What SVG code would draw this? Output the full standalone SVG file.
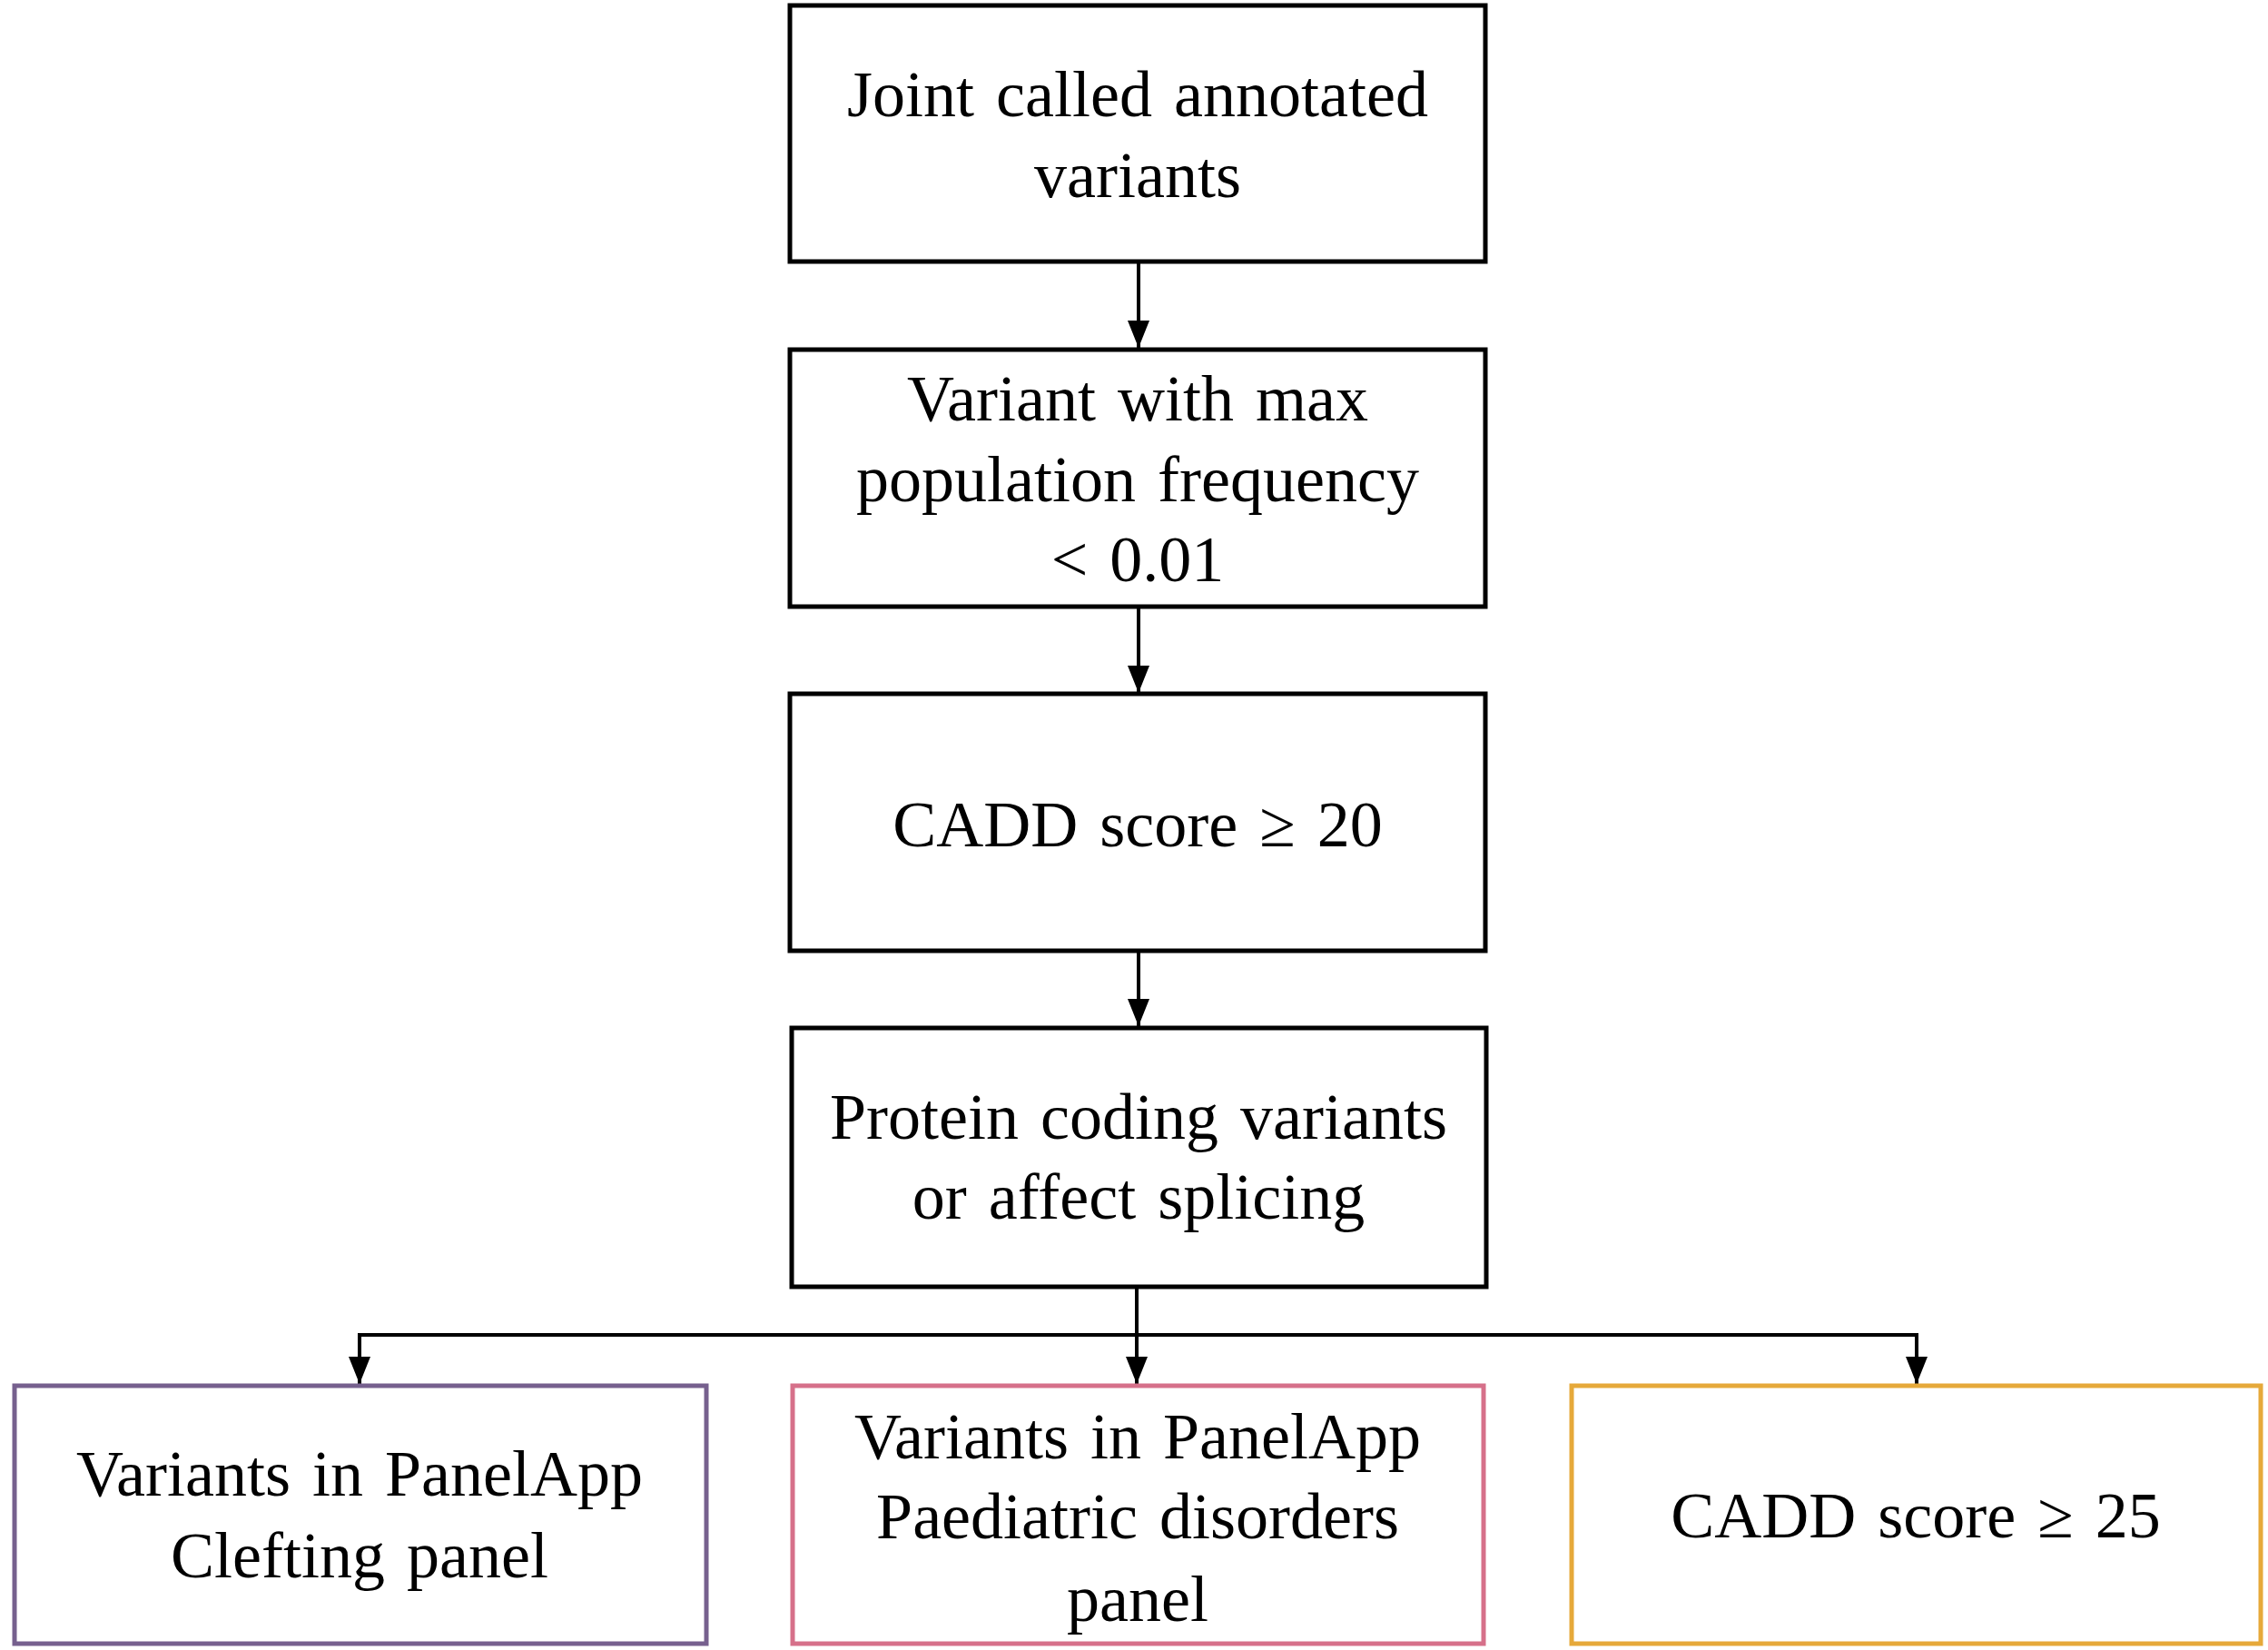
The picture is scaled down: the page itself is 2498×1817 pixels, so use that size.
<svg xmlns="http://www.w3.org/2000/svg" width="2498" height="1817" viewBox="0 0 2498 1817">
<style>
.box{fill:#fff;stroke:#000;stroke-width:5}
.purple{stroke:#76608E}
.pink{stroke:#D6708A}
.gold{stroke:#E6A93A}
.t{font-family:"Liberation Serif","Times New Roman",serif;font-size:72px;fill:#000;text-anchor:middle;word-spacing:6px}
.c{fill:none;stroke:#000;stroke-width:4}
</style>
<defs>
<marker id="ah" viewBox="0 0 30 24" refX="30" refY="12" markerWidth="30" markerHeight="24" markerUnits="userSpaceOnUse" orient="auto-start-reverse">
<path d="M0,0 L30,12 L0,24 Z" fill="#000"/>
</marker>
</defs>
<rect width="2498" height="1817" fill="#fff"/>
<g id="connectors">
<line class="c" x1="1254" y1="288" x2="1254" y2="383" marker-end="url(#ah)"/>
<line class="c" x1="1254" y1="668" x2="1254" y2="763" marker-end="url(#ah)"/>
<line class="c" x1="1254" y1="1047" x2="1254" y2="1130" marker-end="url(#ah)"/>
<line class="c" x1="1252" y1="1417" x2="1252" y2="1524" marker-end="url(#ah)"/>
<polyline class="c" points="396,1524 396,1470 2111,1470 2111,1524" marker-start="url(#ah)" marker-end="url(#ah)"/>
</g>
<g id="n1">
<rect class="box" x="870" y="6" width="766" height="282"/>
<text class="t" x="1253" y="128">Joint called annotated</text>
<text class="t" x="1253" y="217">variants</text>
</g>
<g id="n2">
<rect class="box" x="870" y="385" width="766" height="283"/>
<text class="t" x="1253" y="463">Variant with max</text>
<text class="t" x="1253" y="552">population frequency</text>
<text class="t" x="1253" y="640">&lt; 0.01</text>
</g>
<g id="n3">
<rect class="box" x="870" y="764" width="766" height="283"/>
<text class="t" x="1253" y="932">CADD score ≥ 20</text>
</g>
<g id="n4">
<rect class="box" x="872" y="1132" width="765" height="285"/>
<text class="t" x="1254" y="1254">Protein coding variants</text>
<text class="t" x="1254" y="1342">or affect splicing</text>
</g>
<g id="n5">
<rect class="box purple" x="16" y="1526" width="762" height="284"/>
<text class="t" x="396" y="1647">Variants in PanelApp</text>
<text class="t" x="396" y="1737">Clefting panel</text>
</g>
<g id="n6">
<rect class="box pink" x="873" y="1526" width="761" height="284"/>
<text class="t" x="1253" y="1606">Variants in PanelApp</text>
<text class="t" x="1253" y="1694">Paediatric disorders</text>
<text class="t" x="1253" y="1785">panel</text>
</g>
<g id="n7">
<rect class="box gold" x="1731" y="1526" width="759" height="284"/>
<text class="t" x="2110" y="1693">CADD score ≥ 25</text>
</g>
</svg>
